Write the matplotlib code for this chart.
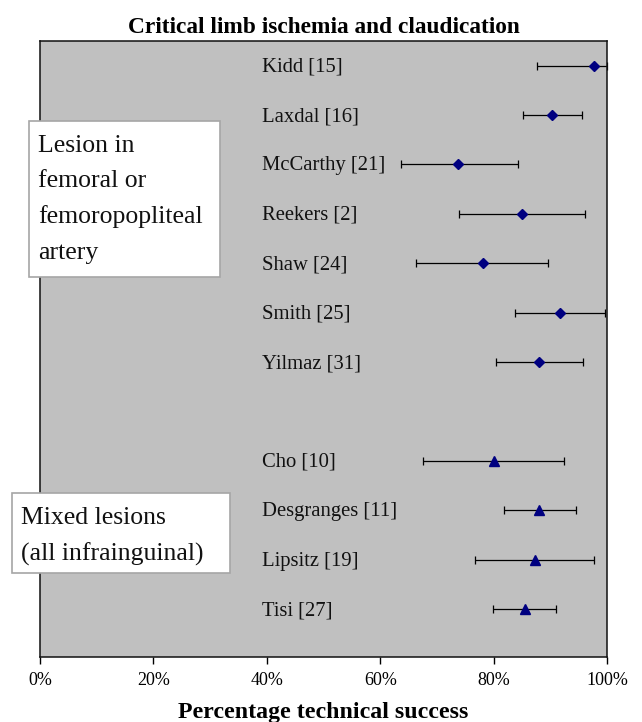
import matplotlib
matplotlib.use("Agg")
import matplotlib.pyplot as plt
from matplotlib.patches import Rectangle
from matplotlib.ticker import FuncFormatter

plt.rcParams['font.family'] = ['Liberation Serif', 'DejaVu Serif']

# Group 1: lesion in femoral or femoropopliteal artery (diamonds)
fem_labels = ["Kidd [15]", "Laxdal [16]", "McCarthy [21]", "Reekers [2]",
              "Shaw [24]", "Smith [25]", "Yilmaz [31]"]
fem_success = [97.7, 90.3, 73.8, 85.0, 78.1, 91.7, 88.0]
fem_lower = [87.7, 85.2, 63.7, 73.9, 66.4, 83.8, 80.4]
fem_upper = [100.0, 95.6, 84.3, 96.1, 89.6, 99.6, 95.8]

# Group 2: mixed lesions (triangles)
mix_labels = ["Cho [10]", "Desgranges [11]", "Lipsitz [19]", "Tisi [27]"]
mix_success = [80.1, 88.0, 87.3, 85.5]
mix_lower = [67.6, 81.8, 76.7, 79.9]
mix_upper = [92.4, 94.5, 97.7, 91.0]

x_ticks = [0, 20, 40, 60, 80, 100]

W, H = 642, 722
fig = plt.figure(figsize=(W / 100, H / 100), dpi=100)
ax = fig.add_axes([40 / W, 1 - 657 / H, (607 - 40) / W, (657 - 41) / H])
ax.set_facecolor('#c0c0c0')

navy = '#000080'
fem_y = list(range(len(fem_labels)))
mix_y = [len(fem_labels) + 1 + i for i in range(len(mix_labels))]

def draw(ys, vals, lo, hi, marker, ms):
    xerr = [[v - l for v, l in zip(vals, lo)], [h - v for v, h in zip(vals, hi)]]
    ax.errorbar(vals, ys, xerr=xerr, fmt='none', ecolor='black', elinewidth=0.9,
                capsize=3.2, capthick=0.9, zorder=2, clip_on=False)
    ax.plot(vals, ys, linestyle='none', marker=marker, color=navy, markersize=ms,
            markeredgecolor=navy, zorder=3, clip_on=False)

draw(fem_y, fem_success, fem_lower, fem_upper, 'D', 4.8)
draw(mix_y, mix_success, mix_lower, mix_upper, '^', 6.5)

for y, lab in zip(fem_y + mix_y, fem_labels + mix_labels):
    ax.annotate(lab, xy=(39.2, y), xytext=(0, -4.3), textcoords='offset points',
                ha='left', va='baseline', fontsize=14.9, color='#111111')

ax.set_xlim(0, 100)
ax.set_ylim(11.97, -0.5)
ax.set_yticks([])
ax.set_xticks(x_ticks)
ax.xaxis.set_major_formatter(FuncFormatter(lambda v, p: f"{v:.0f}%"))
ax.tick_params(axis='x', direction='out', length=5, width=1, pad=6, labelsize=13)
for s in ax.spines.values():
    s.set_linewidth(1.1)
    s.set_color('#111111')

fig.text(323.5 / W, 1 - 33 / H, "Critical limb ischemia and claudication",
         ha='center', va='baseline', fontsize=16.8, fontweight='bold')
fig.text(323.5 / W, 1 - 718 / H, "Percentage technical success",
         ha='center', va='baseline', fontsize=17.2, fontweight='bold')

# annotation boxes
def box(x0, y0, x1, y1):
    fig.patches.append(Rectangle((x0 / W, 1 - y1 / H), (x1 - x0) / W, (y1 - y0) / H,
                                 transform=fig.transFigure, facecolor='white',
                                 edgecolor='#a6a6a6', linewidth=1.2, zorder=5))

box(29, 121, 220, 277)
for i, line in enumerate(["Lesion in", "femoral or", "femoropopliteal", "artery"]):
    fig.text(38 / W, 1 - (143 + 35.7 * i) / H, line, ha='left', va='center_baseline',
             fontsize=18.5, color='#111111', zorder=6)

box(12, 493, 230, 573)
for i, line in enumerate(["Mixed lesions", "(all infrainguinal)"]):
    fig.text(21 / W, 1 - (515 + 37 * i) / H, line, ha='left', va='center_baseline',
             fontsize=18.5, color='#111111', zorder=6)

fig.savefig("out.png", dpi=100)
